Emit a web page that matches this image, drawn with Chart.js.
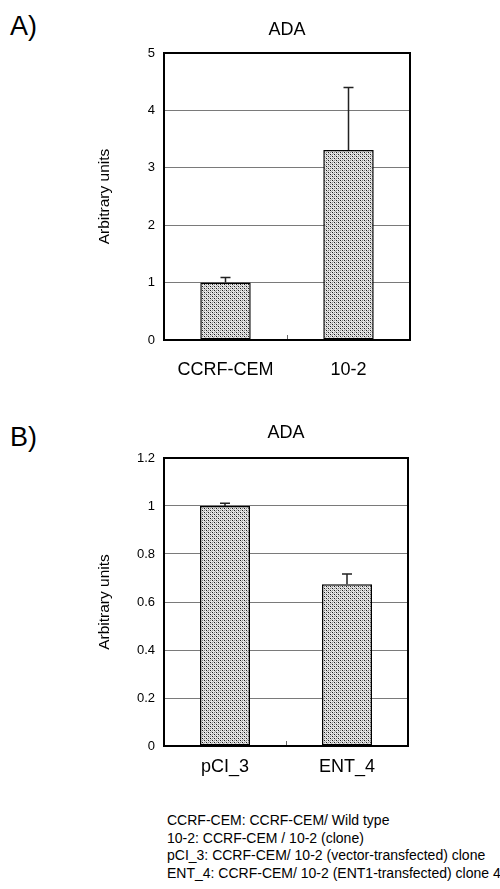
<!DOCTYPE html>
<html>
<head>
<meta charset="utf-8">
<script src="https://cdn.jsdelivr.net/npm/chart.js@4.4.1/dist/chart.umd.min.js"></script>
<style>
  html, body { margin:0; padding:0; background:#fff; }
  body { width:500px; height:889px; position:relative; overflow:hidden; font-family:"Liberation Sans", Arial, sans-serif; }
  .panel { position:absolute; left:10px; font-size:27px; color:#000; }
  #wrapA { position:absolute; left:0; top:0; width:500px; height:420px; }
  #wrapB { position:absolute; left:0; top:420px; width:500px; height:380px; }
  #notes { position:absolute; left:167px; top:812px; font-size:14px; line-height:17.6px; color:#000; white-space:nowrap; }
</style>
</head>
<body>
<div class="panel" style="top:11px;">A)</div>
<div class="panel" style="top:422px;">B)</div>
<div id="wrapA"><canvas id="chartA" width="500" height="420"></canvas></div>
<div id="wrapB"><canvas id="chartB" width="500" height="380"></canvas></div>
<div id="notes">
CCRF-CEM: CCRF-CEM/ Wild type<br>
10-2: CCRF-CEM / 10-2 (clone)<br>
pCI_3: CCRF-CEM/ 10-2 (vector-transfected) clone<br>
ENT_4: CCRF-CEM/ 10-2 (ENT1-transfected) clone 4
</div>
<script>
// ---- Data ----
const titleA = "ADA";
const categoriesA = ["CCRF-CEM", "10-2"];
const valuesA = [1.0, 3.31];
const errorsA = [0.09, 1.09];
const ticksA = [0, 1, 2, 3, 4, 5];

const titleB = "ADA";
const categoriesB = ["pCI_3", "ENT_4"];
const valuesB = [1.0, 0.674];
const errorsB = [0.011, 0.043];
const ticksB = [0, 0.2, 0.4, 0.6, 0.8, 1, 1.2];

const yTitle = "Arbitrary units";

// ---- Pattern fill ----
function makePattern() {
  const c = document.createElement('canvas');
  c.width = 4; c.height = 4;
  const g = c.getContext('2d');
  g.fillStyle = '#e6e6e6'; g.fillRect(0, 0, 4, 4);
  g.fillStyle = '#1a1a1a'; g.fillRect(0, 0, 1, 1); g.fillRect(2, 2, 1, 1);
  g.fillStyle = '#8a8a8a'; g.fillRect(2, 0, 1, 1); g.fillRect(0, 2, 1, 1);
  g.fillStyle = '#b0b0b0'; g.fillRect(1, 1, 1, 1); g.fillRect(3, 3, 1, 1);
  return g.createPattern(c, 'repeat');
}
const pattern = makePattern();
const FONT = '"Liberation Sans", Arial, sans-serif';

// ---- Plugin: title, frame, error bars, category tick ----
const decor = {
  id: 'decor',
  afterDatasetsDraw(chart, args, opts) {
    const ctx = chart.ctx;
    const a = chart.chartArea;
    const xs = chart.scales.x, ys = chart.scales.y;
    const vals = chart.data.datasets[0].data;
    const errs = opts.errors;
    ctx.save();
    // error bars (upper only)
    ctx.strokeStyle = '#222';
    ctx.lineWidth = 1.5;
    vals.forEach((v, i) => {
      const x = xs.getPixelForValue(i);
      const y0 = ys.getPixelForValue(v);
      const y1 = ys.getPixelForValue(v + errs[i]);
      ctx.beginPath();
      ctx.moveTo(x, y0); ctx.lineTo(x, y1);
      ctx.moveTo(x - 5, y1); ctx.lineTo(x + 5, y1);
      ctx.stroke();
    });
    // category boundary tick
    ctx.strokeStyle = '#666';
    ctx.lineWidth = 1;
    const mid = (xs.getPixelForValue(0) + xs.getPixelForValue(1)) / 2;
    ctx.beginPath();
    ctx.moveTo(Math.round(mid) + 0.5, a.bottom);
    ctx.lineTo(Math.round(mid) + 0.5, a.bottom - 5);
    ctx.stroke();
    // frame
    ctx.strokeStyle = '#000';
    ctx.lineWidth = 2;
    ctx.strokeRect(a.left, a.top, a.right - a.left, a.bottom - a.top);
    // title
    ctx.fillStyle = '#000';
    ctx.font = opts.titleSize + 'px ' + FONT;
    ctx.textAlign = 'center';
    ctx.textBaseline = 'middle';
    ctx.fillText(opts.title, (a.left + a.right) / 2, a.top - opts.titleGap);
    ctx.restore();
  }
};

function makeChart(id, cats, vals, errs, ticks, title, pad, xPad, xHeight, titleGap, titleSize) {
  return new Chart(document.getElementById(id), {
    type: 'bar',
    data: {
      labels: cats,
      datasets: [{
        data: vals,
        backgroundColor: pattern,
        borderColor: '#000',
        borderWidth: 1.5,
        borderSkipped: false,
        barPercentage: 0.41,
        categoryPercentage: 1.0
      }]
    },
    options: {
      responsive: false,
      animation: false,
      devicePixelRatio: 1,
      layout: { padding: pad },
      plugins: {
        legend: { display: false },
        title: { display: false },
        tooltip: { enabled: false },
        decor: { errors: errs, title: title, titleGap: titleGap, titleSize: titleSize }
      },
      scales: {
        x: {
          grid: { display: false, drawTicks: false },
          border: { display: false },
          ticks: { color: '#000', font: { family: FONT, size: 18 }, padding: xPad, maxRotation: 0 },
          afterFit(s) { s.height = xHeight; }
        },
        y: {
          min: ticks[0],
          max: ticks[ticks.length - 1],
          afterBuildTicks(s) { s.ticks = ticks.map(v => ({ value: v })); },
          grid: { color: '#7a7a7a', lineWidth: 1, drawTicks: false },
          border: { display: false },
          ticks: {
            color: '#000',
            font: { family: FONT, size: 13 },
            padding: 9,
            callback: v => String(v)
          },
          title: {
            display: true,
            text: yTitle,
            color: '#000',
            font: { family: FONT, size: 15.5 },
            padding: { top: 95, bottom: 0 }
          },
          afterFit(s) { s.width = 164; }
        }
      }
    },
    plugins: [decor]
  });
}

makeChart('chartA', categoriesA, valuesA, errorsA, ticksA, titleA,
  { left: 0, right: 90, top: 53, bottom: 20 }, 19, 60, 23, 18);
makeChart('chartB', categoriesB, valuesB, errorsB, ticksB, titleB,
  { left: 0, right: 92, top: 38, bottom: 14 }, 10, 40, 25, 18);
</script>
</body>
</html>
